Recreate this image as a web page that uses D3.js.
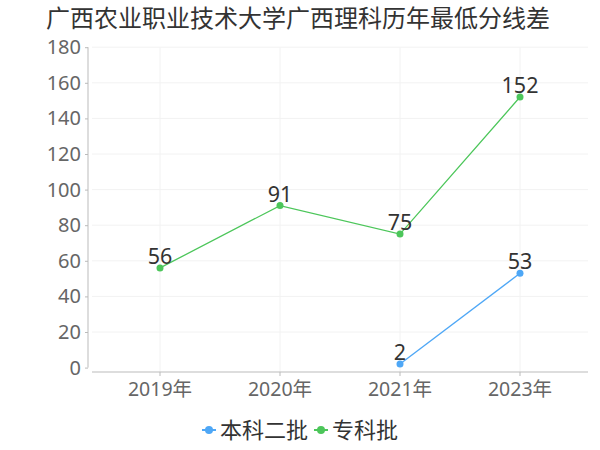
<!DOCTYPE html>
<html>
<head>
<meta charset="utf-8">
<script src="https://cdn.jsdelivr.net/npm/d3@7"></script>
<style>
body { margin: 0; background: #fff; }
text { font-family: "Noto Sans", "Noto Sans CJK SC", sans-serif; }
</style>
</head>
<body>
<svg id="chart" width="600" height="450"></svg>
<script>
var title = "广西农业职业技术大学广西理科历年最低分线差";
var years = ["2019年", "2020年", "2021年", "2023年"];
var benke2 = [null, null, 2, 53];
var zhuanke = [56, 91, 75, 152];
var yTicks = [0, 20, 40, 60, 80, 100, 120, 140, 160, 180];

var series = [
  { name: "本科二批", color: "#4ea7f6", values: benke2 },
  { name: "专科批", color: "#4cc65a", values: zhuanke }
];

let svg = d3.select("svg#chart");

let xScale = d3.scaleBand().domain(years).range([100, 580]),
  yScale = d3.scaleLinear().domain([0, 180]).range([367.6, 47.2]);

let cx = function (d) { return xScale(d) + xScale.bandwidth() / 2; };

// title
svg.append("text")
  .attr("x", 46).attr("y", 27)
  .attr("font-size", 24).attr("fill", "#333")
  .style("font-family", "'Noto Sans CJK SC', sans-serif")
  .text(title);

// grids
let grid = svg.append("g");
grid.selectAll(".hg").data(yTicks.slice(1)).enter().append("line")
  .attr("x1", 92).attr("x2", 588)
  .attr("y1", (d) => yScale(d)).attr("y2", (d) => yScale(d))
  .attr("stroke", "#f2f2f2");
grid.selectAll(".vg").data(years).enter().append("line")
  .attr("x1", cx).attr("x2", cx)
  .attr("y1", yScale(180)).attr("y2", 372)
  .attr("stroke", "#f2f2f2");

// y axis
let yAxis = svg.append("g")
  .attr("transform", "translate(88,0)")
  .call(d3.axisLeft(yScale).tickValues(yTicks).tickSize(3).tickPadding(4));
yAxis.select(".domain").attr("stroke", "#bbb").attr("d", "M0," + yScale(180) + "V" + yScale(0));
yAxis.selectAll(".tick line").attr("stroke", "#bbb");
yAxis.selectAll(".tick text").attr("font-size", 20).attr("fill", "#666")
  .style("font-family", "'Noto Sans', sans-serif");

// x axis
let xAxis = svg.append("g")
  .attr("transform", "translate(0,372)")
  .call(d3.axisBottom(xScale).tickSize(4).tickPadding(6));
xAxis.select(".domain").attr("stroke", "#bbb").attr("d", "M92,0H588");
xAxis.selectAll(".tick line").attr("stroke", "#bbb");
xAxis.selectAll(".tick text").attr("font-size", 19.5).attr("fill", "#666")
  .style("font-family", "'Noto Sans', 'Noto Sans CJK SC', sans-serif");

// lines
series.forEach(function (s) {
  let pts = years.map((y, i) => ({ year: y, v: s.values[i] })).filter((p) => p.v !== null);
  let line = d3.line().x((p) => cx(p.year)).y((p) => yScale(p.v));
  svg.append("path").datum(pts)
    .attr("d", line).attr("fill", "none")
    .attr("stroke", s.color).attr("stroke-width", 1.3);
  svg.selectAll(null).data(pts).enter().append("circle")
    .attr("cx", (p) => cx(p.year)).attr("cy", (p) => yScale(p.v))
    .attr("r", 3.5).attr("fill", s.color);
  svg.selectAll(null).data(pts).enter().append("text")
    .attr("x", (p) => cx(p.year)).attr("y", (p) => yScale(p.v) - 4)
    .attr("text-anchor", "middle").attr("font-size", 21.5).attr("fill", "#333")
    .text((p) => p.v);
});

// legend
let legend = svg.append("g");
let lx = [202, 314];
series.forEach(function (s, i) {
  let g = legend.append("g").attr("transform", "translate(" + lx[i] + ",430)");
  g.append("line").attr("x1", 0).attr("x2", 14).attr("y1", 0).attr("y2", 0)
    .attr("stroke", s.color).attr("stroke-width", 2);
  g.append("circle").attr("cx", 7).attr("cy", 0).attr("r", 4).attr("fill", s.color);
  g.append("text").attr("x", 18).attr("y", 0).attr("dy", "0.36em")
    .attr("font-size", 22).attr("fill", "#333")
    .style("font-family", "'Noto Sans CJK SC', sans-serif")
    .text(s.name);
});
</script>
</body>
</html>
